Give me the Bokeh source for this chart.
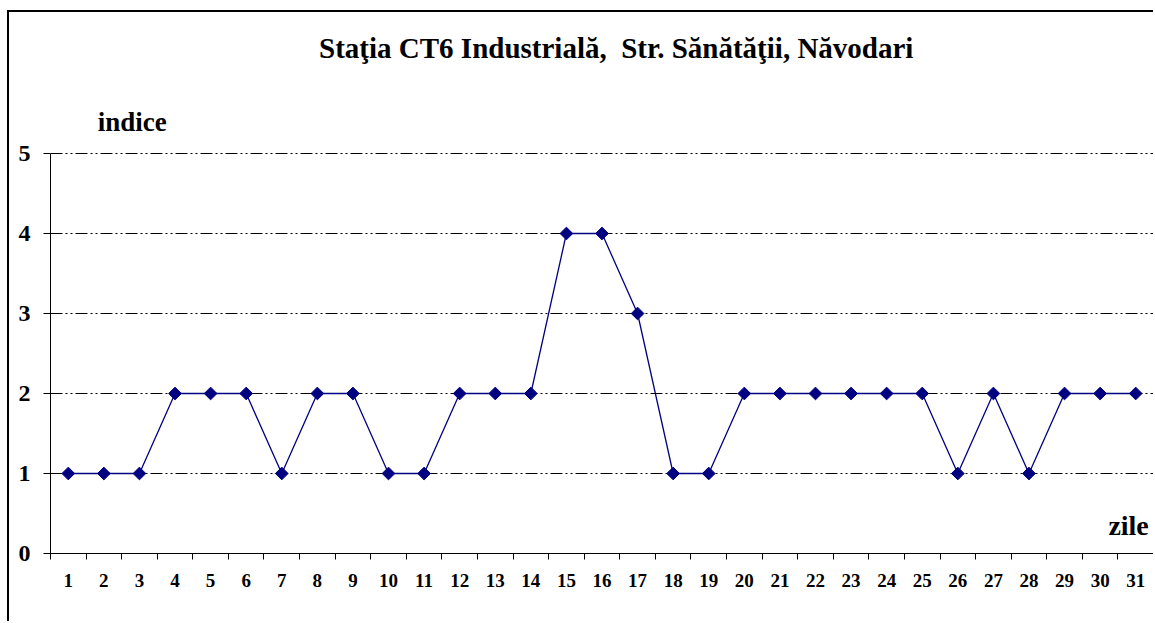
from bokeh.plotting import figure
from bokeh.models import Range1d, FixedTicker, Label
from bokeh.embed import file_html
from bokeh.resources import INLINE

days = list(range(1, 32))
values = [1, 1, 1, 2, 2, 2, 1, 2, 2, 1, 1, 2, 2, 2, 4, 4, 3, 1, 1, 2, 2, 2, 2, 2, 2, 1, 2, 1, 2, 2, 2]
y_ticks = [0, 1, 2, 3, 4, 5]
grid_levels = [1, 2, 3, 4, 5]
title_text = "Staţia CT6 Industrială,\u00a0 Str. Sănătăţii, Năvodari"
y_label = "indice"
x_label = "zile"

FONT = "Liberation Serif"

p = figure(width=1146, height=611, output_backend="svg", toolbar_location=None,
           x_range=Range1d(0.5, len(days) + 0.5), y_range=Range1d(0, 5 + 141 / 80),
           min_border_left=41, min_border_top=0, min_border_right=2, min_border_bottom=70,
           styles={"border-left": "2px solid black", "border-top": "2px solid black",
                   "margin-left": "7px", "margin-top": "10px"})
p.outline_line_color = None
p.background_fill_color = "white"
p.border_fill_color = "white"

# x axis: labels at day centres, ticks between days
p.xaxis.ticker = FixedTicker(ticks=days, minor_ticks=[d + 0.5 for d in range(0, 32)])
p.xaxis.major_tick_out = 0
p.xaxis.major_tick_in = 0
p.xaxis.minor_tick_out = 6
p.xaxis.minor_tick_in = 0
p.xaxis.axis_line_color = "black"
p.xaxis.minor_tick_line_color = "black"
p.xaxis.major_label_standoff = 14
p.xaxis.major_label_text_font = FONT
p.xaxis.major_label_text_font_style = "bold"
p.xaxis.major_label_text_font_size = "19px"
p.xaxis.major_label_text_color = "black"

p.yaxis.ticker = FixedTicker(ticks=y_ticks)
p.yaxis.bounds = (0, 5)
p.yaxis.minor_tick_line_color = None
p.yaxis.major_tick_out = 7
p.yaxis.major_tick_in = 0
p.yaxis.axis_line_color = "black"
p.yaxis.major_tick_line_color = "black"
p.yaxis.major_label_standoff = 13
p.yaxis.major_label_text_font = FONT
p.yaxis.major_label_text_font_style = "bold"
p.yaxis.major_label_text_font_size = "24px"
p.yaxis.major_label_text_color = "black"

p.xgrid.grid_line_color = None
p.ygrid.ticker = FixedTicker(ticks=grid_levels)
p.ygrid.grid_line_color = "black"
p.ygrid.grid_line_dash = "12 3 2 3 2 3"
p.ygrid.grid_line_width = 1

p.line(days, values, line_color="#000080", line_width=1.3)
p.scatter(days, values, marker="square", angle=0.7854, size=9,
          fill_color="#000080", line_color="#000080")

p.add_layout(Label(x=16.4, y=6.325, text=title_text, text_align="center", text_baseline="middle",
                   text_font=FONT, text_font_style="bold", text_font_size="29px", text_color="black"))
p.add_layout(Label(x=2.8, y=5.39, text=y_label, text_align="center", text_baseline="middle",
                   text_font=FONT, text_font_style="bold", text_font_size="27px", text_color="black"))
p.add_layout(Label(x=30.8, y=0.35, text=x_label, text_align="center", text_baseline="middle",
                   text_font=FONT, text_font_style="bold", text_font_size="28px", text_color="black"))

open("out.html", "w").write(file_html(p, INLINE))
